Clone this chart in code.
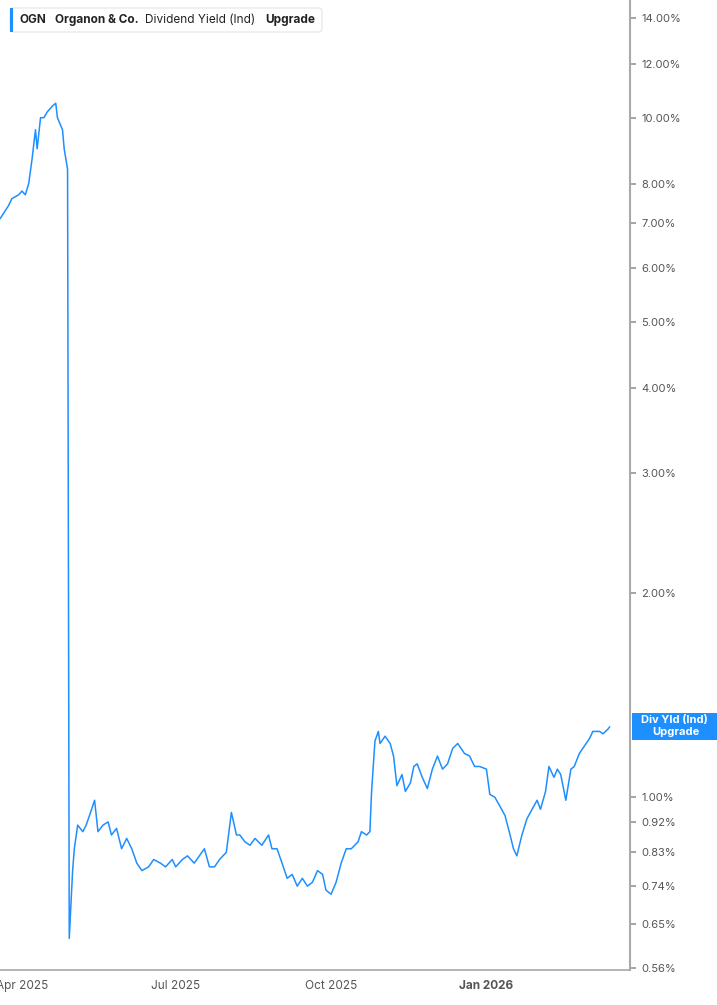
import numpy as np, pandas as pd, matplotlib
matplotlib.use("Agg")
import matplotlib.pyplot as plt, seaborn as sns
from matplotlib.ticker import FixedLocator, NullLocator
import matplotlib.dates as mdates

day_offsets = [-13,-8,-6,-2,0,2,4,6,8,9,11,13,15,18,20,21,24,25,27,28,30,31,33,36,38,40,43,45,48,51,53,56,59,62,65,68,71,75,78,82,85,89,91,95,98,102,105,108,111,114,117,121,124,127,129,132,135,138,142,146,148,151,154,157,160,163,166,169,172,175,178,180,183,186,189,192,195,199,201,204,206,207,209,211,212,215,218,220,222,225,227,230,232,234,237,240,243,246,249,252,255,258,262,265,268,271,275,277,280,283,286,289,291,293,296,299,302,305,307,310,312,315,317,319,322,325,327,330,333,336,338,342,344,347,348]
yield_pct = [7.10,7.42,7.6,7.7,7.8,7.7,8.0,8.7,9.6,9.0,10.0,10.0,10.2,10.4,10.5,10.0,9.6,9.0,8.4,0.62,0.78,0.84,0.91,0.89,0.91,0.94,0.99,0.89,0.91,0.92,0.88,0.90,0.84,0.87,0.84,0.80,0.78,0.79,0.81,0.80,0.79,0.81,0.79,0.81,0.82,0.80,0.82,0.84,0.79,0.79,0.81,0.83,0.95,0.88,0.88,0.86,0.85,0.87,0.85,0.88,0.84,0.84,0.80,0.76,0.77,0.74,0.76,0.74,0.75,0.78,0.77,0.73,0.72,0.75,0.80,0.84,0.84,0.86,0.89,0.88,0.89,1.02,1.21,1.25,1.20,1.23,1.20,1.15,1.04,1.08,1.02,1.05,1.11,1.12,1.07,1.03,1.10,1.15,1.10,1.12,1.18,1.20,1.16,1.15,1.11,1.11,1.10,1.01,1.00,0.97,0.94,0.88,0.84,0.82,0.88,0.93,0.96,0.99,0.96,1.02,1.11,1.07,1.10,1.08,0.99,1.10,1.11,1.16,1.19,1.22,1.25,1.25,1.24,1.26,1.27]
ytick_vals = [0.56,0.65,0.74,0.83,0.92,1.00,2.00,3.00,4.00,5.00,6.00,7.00,8.00,10.00,12.00,14.00]
xtick_dates = ["2025-04-01","2025-07-01","2025-10-01","2026-01-01"]
xtick_labels = ["Apr 2025","Jul 2025","Oct 2025","Jan 2026"]

base = pd.Timestamp("2025-04-01")
df = pd.DataFrame({"date": [base + pd.Timedelta(days=d) for d in day_offsets], "y": yield_pct})

sns.set_theme(style="white")
plt.rcParams['font.family'] = ['Inter', 'DejaVu Sans']
fig = plt.figure(figsize=(7.17, 10.05), dpi=100)
ax = fig.add_axes([0, 35/1005, 630/717, 970/1005])
blue = "#1e8fff"
sns.lineplot(data=df, x="date", y="y", ax=ax, color=blue, linewidth=1.1)
ax.set_yscale("log")
ax.set_ylim(0.557, 14.9)
ax.set_xlim(base - pd.Timedelta(days=13), base + pd.Timedelta(days=360))
ax.yaxis.tick_right()
ax.yaxis.set_major_locator(FixedLocator(ytick_vals))
ax.yaxis.set_minor_locator(NullLocator())
ax.set_yticklabels([f"{v:.2f}%" for v in ytick_vals], fontsize=8, color="#555555")
ax.tick_params(axis="y", length=4, color="#999999", pad=4)
ax.set_xticks([pd.Timestamp(d) for d in xtick_dates])
ax.set_xticklabels(xtick_labels, fontsize=8.5, color="#555555")
for lbl in ax.get_xticklabels():
    if lbl.get_text() == "Jan 2026":
        lbl.set_fontweight("bold")
ax.tick_params(axis="x", length=4, color="#999999", pad=3)
ax.set_xlabel(""); ax.set_ylabel("")
for s in ["top", "left"]:
    ax.spines[s].set_visible(False)
ax.spines["right"].set_color("#aaaaaa"); ax.spines["right"].set_linewidth(1.5)
ax.spines["bottom"].set_color("#aaaaaa")

fig.text(20/717, 1-20/1005, "OGN", fontsize=8.5, fontweight="bold", va="center", color="#222222")
fig.text(55/717, 1-20/1005, "Organon & Co.", fontsize=8.5, fontweight="bold", va="center", color="#222222")
fig.text(145/717, 1-20/1005, "Dividend Yield (Ind)", fontsize=8.5, va="center", color="#222222")
fig.text(265/717, 1-20/1005, "Upgrade", fontsize=8.5, fontweight="bold", va="center", color="#222222")
fig.patches.append(matplotlib.patches.FancyBboxPatch((10/717, 1-32/1005), 312/717, 24/1005, boxstyle="round,pad=0,rounding_size=0.004",
    transform=fig.transFigure, facecolor="white", edgecolor="#e5e5e5", linewidth=0.8))
fig.patches.append(matplotlib.patches.Rectangle((10/717, 1-32/1005), 3/717, 24/1005, transform=fig.transFigure, facecolor=blue, edgecolor="none"))
fig.patches.append(matplotlib.patches.Rectangle((632/717, 1-740/1005), 85/717, 27/1005, transform=fig.transFigure, facecolor=blue, edgecolor="none"))
fig.text(674/717, 1-720/1005, "Div Yld (Ind)", fontsize=8, fontweight="bold", color="white", ha="center", va="center")
fig.text(676/717, 1-732/1005, "Upgrade", fontsize=8, fontweight="bold", color="white", ha="center", va="center")
fig.savefig("out.png", dpi=100)
